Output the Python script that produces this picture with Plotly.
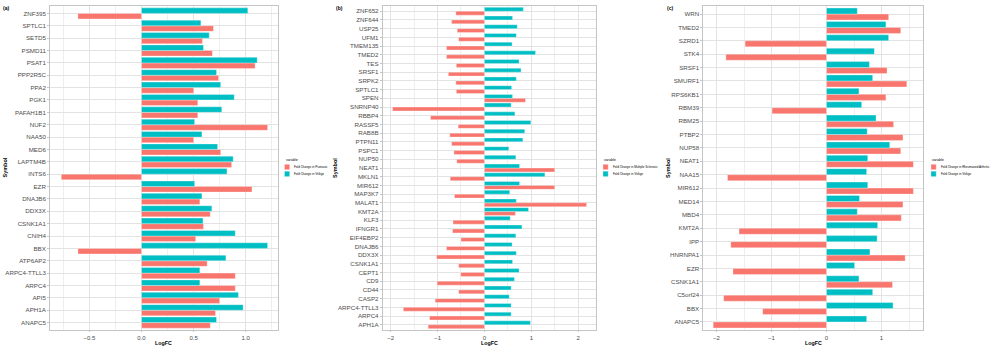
import plotly.graph_objects as go

# ---------------- data ----------------
genes_a = ["ZNF395", "SPTLC1", "SETD5", "PSMD11", "PSAT1", "PPP2R5C", "PPA2", "PGK1",
           "PAFAH1B1", "NUF2", "NAA50", "MED6", "LAPTM4B", "INTS6", "EZR", "DNAJB6",
           "DDX3X", "CSNK1A1", "CNIH4", "BBX", "ATP6AP2", "ARPC4-TTLL3", "ARPC4", "API5",
           "APH1A", "ANAPC5"]
psoriasis_a = [-0.61, 0.69, 0.585, 0.68, 1.09, 0.74, 0.50, 0.54,
               0.54, 1.21, 0.50, 0.76, 0.865, -0.77, 1.06, 0.56,
               0.66, 0.595, 0.52, -0.61, 0.63, 0.90, 0.90, 0.75,
               0.71, 0.66]
vitiligo_a = [1.02, 0.57, 0.65, 0.595, 1.11, 0.72, 0.76, 0.89,
              0.77, 0.51, 0.58, 0.73, 0.88, 0.82, 0.51, 0.58,
              0.675, 0.59, 0.90, 1.21, 0.81, 0.56, 0.56, 0.93,
              0.975, 0.72]

genes_b = ["ZNF652", "ZNF644", "USP25", "UFM1", "TMEM135", "TMED2", "TES", "SRSF1",
           "SRPK2", "SPTLC1", "SPEN", "SNRNP40", "RBBP4", "RASSF5", "RAB8B", "PTPN11",
           "PSPC1", "NUP50", "NEAT1", "MKLN1", "MIR612", "MAP3K7", "MALAT1", "KMT2A",
           "KLF3", "IFNGR1", "EIF4EBP2", "DNAJB6", "DDX3X", "CSNK1A1", "CEPT1", "CD9",
           "CD44", "CASP2", "ARPC4-TTLL3", "ARPC4", "APH1A"]
ms_b = [-0.61, -0.70, -0.58, -0.55, -0.81, -0.81, -0.60, -0.77,
        -0.61, -0.60, 0.875, -1.96, -1.15, -0.56, -0.74, -0.70,
        -0.65, -0.59, 1.50, -0.73, 1.50, -0.64, 2.18, 0.66,
        -0.67, -0.68, -0.50, -0.81, -1.02, -0.55, -0.505, -1.01,
        -0.55, -1.05, -1.73, -1.17, -1.20]
vitiligo_b = [0.83, 0.60, 0.70, 0.68, 0.59, 1.09, 0.74, 0.78,
              0.68, 0.58, 0.60, 0.57, 0.65, 0.99, 0.86, 0.82,
              0.52, 0.67, 0.75, 1.29, 0.75, 0.54, 0.68, 0.94,
              0.55, 0.80, 0.67, 0.59, 0.68, 0.60, 0.74, 0.64,
              0.57, 0.53, 0.57, 0.57, 0.98]

genes_c = ["WRN", "TMED2", "SZRD1", "STK4", "SRSF1", "SMURF1", "RPS6KB1", "RBM39",
           "RBM25", "PTBP2", "NUP58", "NEAT1", "NAA15", "MIR612", "MED14", "MBD4",
           "KMT2A", "IPP", "HNRNPA1", "EZR", "CSNK1A1", "C5orf24", "BBX", "ANAPC5"]
ra_c = [1.13, 1.35, -1.48, -1.83, 1.10, 1.46, 1.08, -0.99,
        1.22, 1.39, 1.35, 1.58, -1.80, 1.58, 1.39, 1.36,
        -1.59, -1.74, 1.43, -1.70, 1.20, -1.87, -1.16, -2.06]
vitiligo_c = [0.56, 1.08, 1.13, 0.87, 0.78, 0.84, 0.59, 0.64,
              0.90, 0.74, 1.15, 0.75, 0.73, 0.75, 0.60, 0.56,
              0.93, 0.92, 0.79, 0.51, 0.59, 0.84, 1.21, 0.73]

series_names_a = ["Fold Change in Psoriasis", "Fold Change in Vitiligo"]
series_names_b = ["Fold Change in Multiple Sclerosis", "Fold Change in Vitiligo"]
series_names_c = ["Fold Change in Rheumatoid Arthritis", "Fold Change in Vitiligo"]
panel_labels = ["(a)", "(b)", "(c)"]

# ---------------- style ----------------
W, H = 1000, 346
SALMON = "#F8766D"
CYAN = "#00BFC4"
GRID = "#e3e3e3"
BORDER = "#c4c4c4"
TICKC = "#4d4d4d"
FONT = "Liberation Sans, Arial, sans-serif"


def px(x):
    return x / W


def py(y):
    return 1 - y / H


panels = [
    dict(genes=genes_a, red=psoriasis_a, cyan=vitiligo_a, names=series_names_a,
         dom=(50, 277.5), xr=[-0.878, 1.305], dtick=0.5, tickfmt=".1f",
         sym_x=4.5, leg_x=283.5),
    dict(genes=genes_b, red=ms_b, cyan=vitiligo_b, names=series_names_b,
         dom=(382.7, 596), xr=[-2.17, 2.38], dtick=1, tickfmt="d",
         sym_x=335, leg_x=602),
    dict(genes=genes_c, red=ra_c, cyan=vitiligo_c, names=series_names_c,
         dom=(703.3, 923.3), xr=[-2.24, 1.76], dtick=1, tickfmt="d",
         sym_x=668, leg_x=930),
]

Y_TOP, Y_BOT = 6, 330

fig = go.Figure()
annotations = []
shapes = []

for i, p in enumerate(panels):
    sfx = "" if i == 0 else str(i + 1)
    xa, ya = "x" + sfx, "y" + sfx
    bar_line = dict(color="rgba(255,255,255,0.55)", width=0.6)
    fig.add_trace(go.Bar(y=p["genes"], x=p["red"], orientation="h", name=p["names"][0],
                         marker=dict(color=SALMON, line=bar_line),
                         xaxis=xa, yaxis=ya, showlegend=False))
    fig.add_trace(go.Bar(y=p["genes"], x=p["cyan"], orientation="h", name=p["names"][1],
                         marker=dict(color=CYAN, line=bar_line),
                         xaxis=xa, yaxis=ya, showlegend=False))
    n = len(p["genes"])
    fig.layout["xaxis" + sfx] = dict(
        domain=[px(p["dom"][0]), px(p["dom"][1])], anchor=ya, range=p["xr"],
        dtick=p["dtick"], tick0=0, tickformat=p["tickfmt"],
        showgrid=True, gridcolor=GRID, gridwidth=0.7, zeroline=False,
        minor=dict(dtick=p["dtick"] / 2, tick0=0, showgrid=True, gridcolor="#efefef",
                   gridwidth=0.4),
        showline=True, mirror=True, linecolor=BORDER, linewidth=0.8,
        ticks="outside", ticklen=1.5, tickcolor=BORDER, tickwidth=0.6,
        tickfont=dict(size=6, color=TICKC, family=FONT), automargin=False,
    )
    fig.layout["yaxis" + sfx] = dict(
        domain=[py(Y_BOT), py(Y_TOP)], anchor=xa, type="category",
        categoryorder="array", categoryarray=list(reversed(p["genes"])),
        range=[-0.6, n - 1 + 0.6],
        showgrid=True, gridcolor=GRID, gridwidth=0.7, zeroline=False,
        showline=True, mirror=True, linecolor=BORDER, linewidth=0.8,
        ticks="outside", ticklen=2, tickcolor=BORDER, tickwidth=0.6,
        tickfont=dict(size=6.2, color=TICKC, family=FONT), automargin=False,
    )
    # axis titles
    cx = (p["dom"][0] + p["dom"][1]) / 2
    annotations.append(dict(text="<b>LogFC</b>", x=px(cx), y=py(342.6), xref="paper", yref="paper",
                            showarrow=False, xanchor="center", yanchor="middle",
                            font=dict(size=5.3, color="black", family=FONT)))
    annotations.append(dict(text="<b>Symbol</b>", x=px(p["sym_x"]), y=py(168), xref="paper",
                            yref="paper", showarrow=False, textangle=-90,
                            xanchor="center", yanchor="middle",
                            font=dict(size=5.5, color="black", family=FONT)))
    # panel label
    lab_x = [6, 339, 670][i]
    annotations.append(dict(text="<b>" + panel_labels[i] + "</b>", x=px(lab_x), y=py(8),
                            xref="paper", yref="paper", showarrow=False,
                            xanchor="center", yanchor="middle",
                            font=dict(size=5, color="black", family=FONT)))
    # legend (drawn manually to match ggplot-sized keys)
    lx = p["leg_x"]
    annotations.append(dict(text="variable", x=px(lx), y=py(160), xref="paper", yref="paper",
                            showarrow=False, xanchor="left", yanchor="middle",
                            font=dict(size=3.4, color="black", family=FONT)))
    for k, (col, nm) in enumerate(zip([SALMON, CYAN], p["names"])):
        y0 = 164.3 + k * 6.9
        shapes.append(dict(type="rect", xref="paper", yref="paper",
                           x0=px(lx + 1), x1=px(lx + 6.2), y0=py(y0 + 5.4), y1=py(y0),
                           fillcolor=col, line=dict(color="rgba(255,255,255,0.6)", width=0.5)))
        annotations.append(dict(text=nm, x=px(lx + 8.5), y=py(y0 + 2.7), xref="paper",
                                yref="paper", showarrow=False, xanchor="left", yanchor="middle",
                                font=dict(size=3, color="black", family=FONT)))

fig.update_layout(
    width=W, height=H, margin=dict(l=0, r=0, t=0, b=0),
    paper_bgcolor="white", plot_bgcolor="white",
    barmode="group", bargap=0.1, bargroupgap=0,
    showlegend=False, annotations=annotations, shapes=shapes,
    font=dict(family=FONT),
)

fig.write_html("out.html")
